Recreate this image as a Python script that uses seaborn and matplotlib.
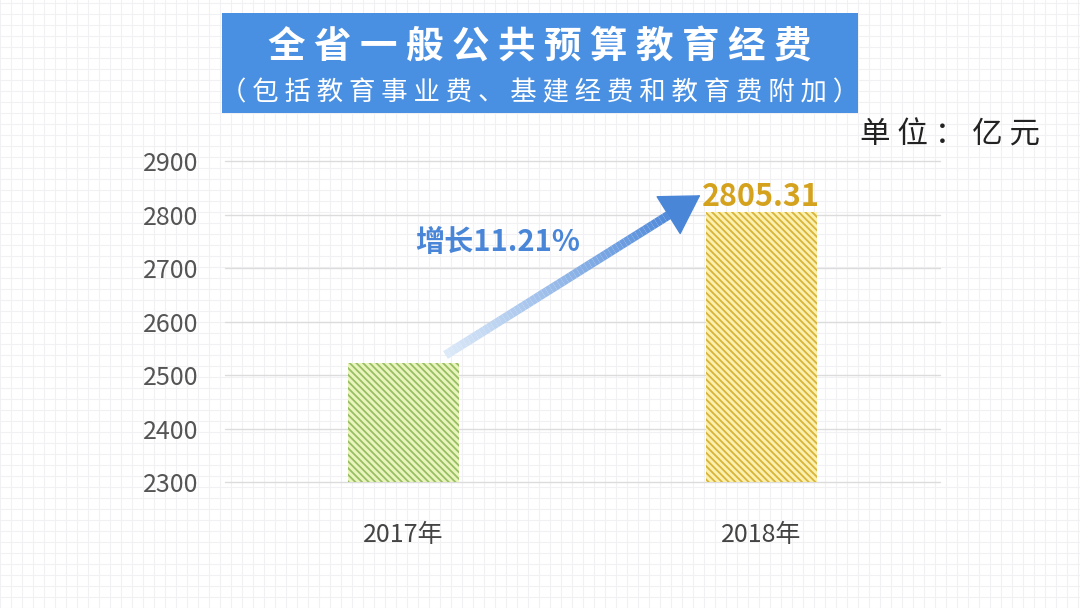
import numpy as np
import pandas as pd
import seaborn as sns
import matplotlib.pyplot as plt
from matplotlib.patches import Rectangle
from matplotlib.collections import LineCollection
from matplotlib.colors import to_rgb

# ---- data ----
years = ["2017年", "2018年"]
values = [2522.6, 2805.31]
value_label = "2805.31"
growth_label = "增长11.21%"
yticks = [2300, 2400, 2500, 2600, 2700, 2800, 2900]
title = "全 省 一 般 公 共 预 算 教 育 经 费"
subtitle = "（ 包 括 教 育 事 业 费 、 基 建 经 费 和 教 育 费 附 加 ）"
unit = "单 位 ： 亿 元"

bar_faces = ["#EAF5BE", "#FBF0AE"]
bar_stripes = ["#97BE62", "#D8B43A"]

sns.set_style("white")
plt.rcParams['font.family'] = ['Noto Sans CJK SC', 'DejaVu Sans']
plt.rcParams['hatch.linewidth'] = 1.3

fig = plt.figure(figsize=(10.8, 6.08), dpi=100)
fig.patch.set_facecolor("#FFFFFF")

# faint graph-paper background
bg = fig.add_axes([0, 0, 1, 1], zorder=-10)
bg.set_xlim(0, 1080)
bg.set_ylim(0, 608)
bg.set_xticks(np.arange(0, 1080, 11))
bg.set_yticks(np.arange(0, 608, 11))
bg.grid(True, color="#F1F1F4", lw=0.8)
bg.tick_params(length=0, labelleft=False, labelbottom=False)
for s in bg.spines.values():
    s.set_visible(False)
bg.set_facecolor("#FFFFFF")

ax = fig.add_axes([0.2083, 0.207, 0.662, 0.528])
ax.set_facecolor("none")
df = pd.DataFrame({"year": years, "value": values})
sns.barplot(data=df, x="year", y="value", hue="year", palette=bar_faces,
            width=0.31, saturation=1, legend=False, ax=ax, zorder=3)
for patch, fc, hc in zip(ax.patches, bar_faces, bar_stripes):
    patch.set_facecolor(fc)
    patch.set_edgecolor(hc)
    patch.set_hatch("\\" * 5)
    patch.set_linewidth(0)

ax.set_xlim(-0.5, 1.5)
ax.set_ylim(2300, 2900)
ax.set_yticks(yticks)
ax.yaxis.grid(True, color="#DCDCDC", lw=1)
ax.xaxis.grid(False)
ax.set_axisbelow(True)
for line in ax.get_ygridlines():
    line.set_clip_on(False)
ax.set_xlabel("")
ax.set_ylabel("")
sns.despine(ax=ax, left=True, bottom=True)
ax.tick_params(axis="y", length=0, pad=19, labelsize=18, labelcolor="#555555")
ax.tick_params(axis="x", length=0, pad=29, labelsize=18, labelcolor="#444444")

# value label on 2018 bar
ax.text(1, values[1] + 10, value_label, ha="center", va="baseline",
        fontsize=22, fontweight="bold", color="#D4A21C", zorder=5)

# gradient arrow from 2017 bar top to 2018 label
start = np.array([0 + 0.117, values[0] + 15])
end = np.array([1 - 0.17, values[1] + 31])
n = 60
ts = np.linspace(0, 0.92, n + 1)
pts = start[None, :] + ts[:, None] * (end - start)[None, :]
segs = np.stack([pts[:-1], pts[1:]], axis=1)
c0 = np.array(to_rgb("#DCE9F8"))
c1 = np.array(to_rgb("#4A86D8"))
cols = [tuple(c0 + (c1 - c0) * t) for t in np.linspace(0, 1, n)]
lc = LineCollection(segs, colors=cols, linewidths=6.5, capstyle="butt", zorder=6)
lc.set_clip_on(False)
ax.add_collection(lc)
head_from = start + 0.88 * (end - start)
ax.annotate("", xy=tuple(end), xytext=tuple(head_from),
            arrowprops=dict(arrowstyle="-|>,head_length=1.0,head_width=0.6",
                            mutation_scale=26, color="#4A86D8", lw=1,
                            shrinkA=0, shrinkB=0),
            zorder=7, annotation_clip=False)

# growth label
ax.text(0.263, 2748, growth_label, ha="center", va="center", fontsize=21,
        fontweight="bold", color="#4A86D8", zorder=6)

# title box
fig.patches.append(Rectangle((0.2056, 0.8141), 0.589, 0.1645,
                             transform=fig.transFigure, facecolor="#4A90E2",
                             edgecolor="none", zorder=1))
fig.text(0.5, 0.922, title, ha="center", va="center", fontsize=27,
         fontweight="bold", color="white", zorder=2)
fig.text(0.5, 0.848, subtitle, ha="center", va="center", fontsize=19,
         color="white", zorder=2)
fig.text(0.8796, 0.778, unit, ha="center", va="center", fontsize=22,
         color="#222222")

fig.savefig("out.png", dpi=100)
